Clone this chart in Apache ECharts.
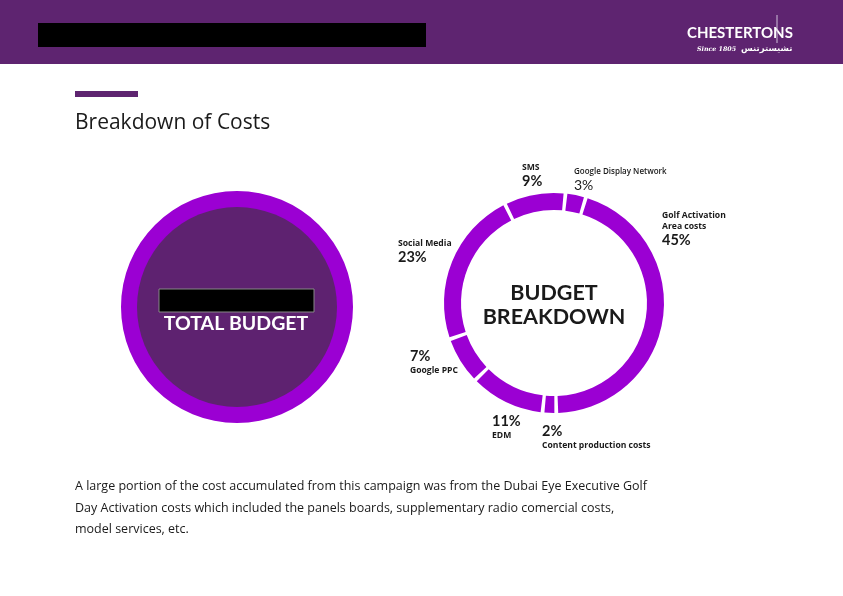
<!DOCTYPE html>
<html>
<head>
<meta charset="utf-8">
<script src="https://cdn.jsdelivr.net/npm/echarts@6/dist/echarts.min.js"></script>
<style>
  html, body { margin: 0; padding: 0; background: #fff; }
  #chart { width: 843px; height: 596px; }
</style>
</head>
<body>
<div id="chart"></div>
<script>
// slices, clockwise from the top
const categories = ['Google Display Network', 'Golf Activation\nArea costs', 'Content production costs', 'EDM', 'Google PPC', 'Social Media', 'SMS']
const shares = [3, 45, 2, 11, 7, 23, 9]
// label: percent first or name first, bold text or not
const percentFirst = [false, false, true, true, true, false, false]
const labelBold = [false, true, true, true, true, true, true]

const bodyLines = [
  'A large portion of the cost accumulated from this campaign was from the Dubai Eye Executive Golf',
  'Day Activation costs which included the panels boards, supplementary radio comercial costs,',
  'model services, etc.'
]

// where each label sits (top-left)
const labelPos = [[574, 166], [662, 210], [542, 423], [492, 413], [410, 348], [398, 238], [522, 162]]

const HEADER = '#5e2470'
const RING = '#9b00d3'
const INNER = '#5e2270'
const TEXT = '#1a1a1a'

const chart = echarts.init(document.getElementById('chart'))

const donutData = categories.map((name, i) => ({ name, value: shares[i] }))

chart.setOption({
  animation: false,
  backgroundColor: '#fff',
  series: [
    {
      type: 'pie',
      silent: true,
      center: [237, 307],
      radius: [99, 116],
      label: { show: false },
      itemStyle: { color: RING },
      data: [{ name: 'ring', value: 1 }]
    },
    {
      type: 'pie',
      silent: true,
      center: [237, 307],
      radius: [0, 100],
      label: { show: false },
      itemStyle: { color: INNER },
      data: [{ name: 'total', value: 1 }]
    },
    {
      type: 'pie',
      silent: true,
      center: [554, 303],
      radius: [93, 110],
      startAngle: 84,
      padAngle: 2,
      itemStyle: { color: RING },
      labelLine: { show: false },
      label: {
        show: true,
        position: 'outside',
        align: 'left',
        color: TEXT,
        formatter: p => {
          const i = p.dataIndex
          const nk = labelBold[i] ? 'n' : 'm'
          const pk = labelBold[i] ? 'p' : 'q'
          const names = p.name.split('\n').map(s => '{' + nk + '|' + s + '}').join('\n')
          const pct = '{' + pk + '|' + p.value + '%}'
          return percentFirst[i] ? pct + '\n' + names : names + '\n' + pct
        },
        rich: {
          n: { fontSize: 8.6, fontWeight: 'bold', lineHeight: 11, fontFamily: '"Open Sans"', color: TEXT, align: 'left' },
          m: { fontSize: 8, fontWeight: 600, lineHeight: 11, fontFamily: '"Open Sans"', color: TEXT, align: 'left' },
          p: { fontSize: 14.5, fontWeight: 'bold', lineHeight: 17, fontFamily: 'Lato', color: TEXT, align: 'left' },
          q: { fontSize: 14, fontWeight: 'normal', lineHeight: 17, fontFamily: 'Lato', color: TEXT, align: 'left' }
        }
      },
      labelLayout: params => {
        const pos = labelPos[params.dataIndex]
        return { x: pos[0], y: pos[1], align: 'left', verticalAlign: 'top' }
      },
      data: donutData
    }
  ],
  graphic: [
    { type: 'rect', z: 100, shape: { x: 0, y: 0, width: 843, height: 64 }, style: { fill: HEADER } },
    { type: 'rect', z: 101, shape: { x: 38, y: 23, width: 388, height: 24 }, style: { fill: '#000' } },
    { type: 'text', z: 101, x: 687, y: 26, style: { text: 'CHESTERTONS', fill: '#fff', font: 'bold 15px Lato' } },
    { type: 'line', z: 101, shape: { x1: 777, y1: 15, x2: 777, y2: 43 }, style: { stroke: '#cfc0da', lineWidth: 1 } },
    { type: 'text', z: 101, x: 697, y: 46.5, style: { text: 'Since 1805', fill: '#fff', font: 'bold italic 6.3px "DejaVu Serif"' } },
    { type: 'text', z: 101, x: 741, y: 44, style: { text: 'تشيسترتنس', fill: '#fff', font: 'bold 8.5px "DejaVu Sans"' } },
    { type: 'rect', z: 100, shape: { x: 75, y: 91, width: 63, height: 6 }, style: { fill: HEADER } },
    { type: 'text', z: 100, x: 75, y: 113, style: { text: 'Breakdown of Costs', fill: TEXT, font: '21px "Open Sans"' } },
    { type: 'rect', z: 100, shape: { x: 159, y: 289, width: 155, height: 23 }, style: { fill: '#000', stroke: '#888', lineWidth: 1 } },
    { type: 'text', z: 100, x: 236, y: 324, style: { text: 'TOTAL BUDGET', fill: '#fff', font: 'bold 19.5px Lato', align: 'center', verticalAlign: 'middle' } },
    { type: 'text', z: 100, x: 554, y: 305, style: { text: 'BUDGET\nBREAKDOWN', fill: TEXT, font: 'bold 21.5px Lato', lineHeight: 23.5, align: 'center', verticalAlign: 'middle' } },
    {
      type: 'text', z: 100, x: 75, y: 476,
      style: { text: bodyLines.join('\n'), fill: TEXT, font: '12.5px "Open Sans"', lineHeight: 21.5 }
    }
  ]
})
</script>
</body>
</html>
